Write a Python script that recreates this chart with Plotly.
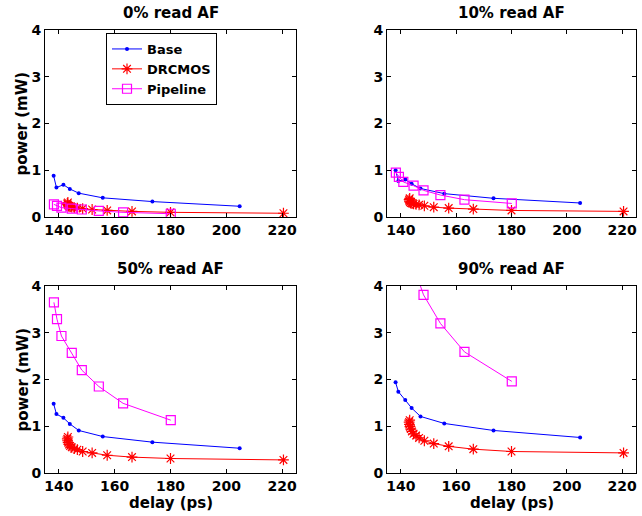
import plotly.graph_objects as go

W, H = 642, 516

titles = ["0% read AF", "10% read AF", "50% read AF", "90% read AF"]

base_x = [138.1, 139.1, 141.6, 143.9, 147.1, 155.7, 173.5, 204.8]
base_y = {
    "0": [0.88, 0.63, 0.69, 0.60, 0.51, 0.41, 0.33, 0.23],
    "10": [1.00, 0.77, 0.80, 0.71, 0.61, 0.50, 0.40, 0.30],
    "50": [1.48, 1.26, 1.18, 1.05, 0.91, 0.78, 0.66, 0.53],
    "90": [1.94, 1.74, 1.56, 1.39, 1.21, 1.06, 0.91, 0.76],
}

drc_x = [143.2, 143.0, 143.1, 143.3, 143.6, 144.0, 144.6, 145.5, 146.6, 148.5,
         151.9, 157.3, 166.2, 180.0, 220.5]
drc_y = {
    "0": [0.31, 0.29, 0.27, 0.25, 0.23, 0.22, 0.21, 0.20, 0.19, 0.18, 0.16, 0.14, 0.12, 0.10, 0.08],
    "10": [0.40, 0.37, 0.34, 0.32, 0.30, 0.29, 0.28, 0.27, 0.26, 0.24, 0.21, 0.19, 0.17, 0.14, 0.12],
    "50": [0.77, 0.73, 0.69, 0.65, 0.61, 0.58, 0.55, 0.52, 0.50, 0.46, 0.43, 0.38, 0.34, 0.31, 0.28],
    "90": [1.13, 1.09, 1.04, 0.99, 0.94, 0.89, 0.84, 0.80, 0.75, 0.69, 0.63, 0.57, 0.51, 0.46, 0.43],
}

pipe_x = [138.2, 139.3, 140.9, 144.6, 148.2, 154.3, 163.0, 180.1]
pipe_y = {
    "0": [0.27, 0.24, 0.20, 0.18, 0.16, 0.13, 0.10, 0.07],
    "10": [0.95, 0.86, 0.75, 0.67, 0.57, 0.47, 0.37, 0.29],
    "50": [3.65, 3.29, 2.93, 2.57, 2.20, 1.85, 1.49, 1.13],
    "90": [6.28, 5.66, 5.04, 4.42, 3.81, 3.20, 2.59, 1.96],
}

keys = ["0", "10", "50", "90"]
x_ticks = [140, 160, 180, 200, 220]
y_ticks = [0, 1, 2, 3, 4]

FONT = "DejaVu Sans"

# panel pixel boxes (left, right, top, bottom)
boxes = [
    (45, 296, 30, 217),
    (387, 636, 30, 217),
    (45, 296, 286, 473),
    (387, 636, 286, 473),
]

fig = go.Figure()
layout = dict(
    template="none",
    width=W, height=H,
    margin=dict(l=0, r=0, t=0, b=0, pad=0),
    paper_bgcolor="white", plot_bgcolor="white",
    showlegend=True,
    font=dict(family=FONT, color="black"),
)

annotations = []
for i, k in enumerate(keys):
    n = i + 1
    xa = "x" if n == 1 else f"x{n}"
    ya = "y" if n == 1 else f"y{n}"
    l, r, t, b = boxes[i]
    common = dict(
        showline=True, linecolor="black", linewidth=1, mirror="ticks",
        ticks="inside", ticklen=4, tickcolor="black", tickwidth=1,
        showgrid=False, zeroline=False, automargin=False,
        tickfont=dict(family=FONT, size=14, weight="bold", color="black"),
    )
    layout["xaxis" if n == 1 else f"xaxis{n}"] = dict(
        domain=[l / W, r / W], range=[135, 225], tickvals=x_ticks,
        anchor=ya, **common)
    layout["yaxis" if n == 1 else f"yaxis{n}"] = dict(
        domain=[1 - b / H, 1 - t / H], range=[0, 4], tickvals=y_ticks,
        anchor=xa, **common)

    fig.add_trace(go.Scatter(
        x=base_x, y=base_y[k], xaxis=xa, yaxis=ya, name="Base",
        mode="lines+markers", line=dict(color="#0000ff", width=1),
        marker=dict(symbol="circle", size=4, color="#0000ff"),
        showlegend=(i == 0), cliponaxis=True))
    fig.add_trace(go.Scatter(
        x=drc_x, y=drc_y[k], xaxis=xa, yaxis=ya, name="DRCMOS",
        mode="lines+markers", line=dict(color="#ff0000", width=1),
        marker=dict(symbol="asterisk-open", size=9, color="#ff0000",
                    line=dict(color="#ff0000", width=1.2)),
        showlegend=(i == 0), cliponaxis=True))
    fig.add_trace(go.Scatter(
        x=pipe_x, y=pipe_y[k], xaxis=xa, yaxis=ya, name="Pipeline",
        mode="lines+markers", line=dict(color="#ff00ff", width=1),
        marker=dict(symbol="square-open", size=9, color="#ff00ff",
                    line=dict(color="#ff00ff", width=1.2)),
        showlegend=(i == 0), cliponaxis=True))

    annotations.append(dict(
        text=titles[i], x=(l + r) / 2 / W, y=1 - (t - 17) / H,
        xref="paper", yref="paper", xanchor="center", yanchor="middle",
        showarrow=False, font=dict(family=FONT, size=15, weight="bold", color="black")))
    if i in (0, 2):
        annotations.append(dict(
            text="power (mW)", x=22 / W, y=1 - (t + b) / 2 / H,
            xref="paper", yref="paper", xanchor="center", yanchor="middle",
            textangle=-90, showarrow=False,
            font=dict(family=FONT, size=15, weight="bold", color="black")))
    if i in (2, 3):
        annotations.append(dict(
            text="delay (ps)", x=(l + r) / 2 / W, y=1 - 503 / H,
            xref="paper", yref="paper", xanchor="center", yanchor="middle",
            showarrow=False, font=dict(family=FONT, size=15, weight="bold", color="black")))

layout["annotations"] = annotations
layout["legend"] = dict(
    x=106 / W, y=1 - 33 / H, xanchor="left", yanchor="top",
    bgcolor="white", bordercolor="black", borderwidth=1,
    font=dict(family=FONT, size=13, weight="bold", color="black"),
    tracegroupgap=0, itemwidth=30,
)
fig.update_layout(**layout)
fig.write_html(
    "out.html",
    config={"displayModeBar": False},
    post_script="document.body.style.margin='0px';document.body.style.padding='0px';",
)
